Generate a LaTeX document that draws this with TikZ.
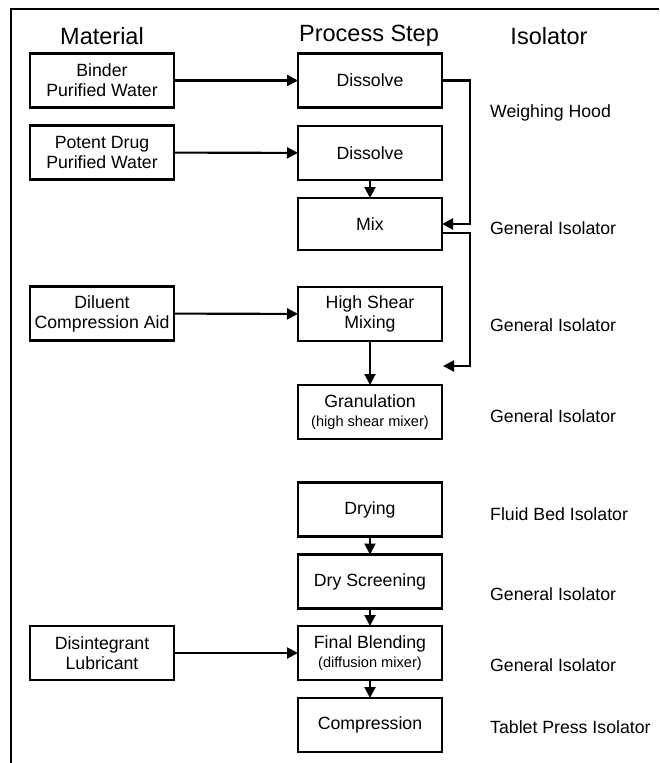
\documentclass[tikz,border=0pt]{standalone}
\usepackage{fontspec}
\setmainfont{Liberation Sans}
\usetikzlibrary{arrows.meta}
\begin{document}
\begin{tikzpicture}[x=1pt,y=-1pt,
  stepbox/.style={draw=black,line width=2.1pt,minimum width=144pt,minimum height=54pt,
    inner sep=0pt,outer sep=0pt,align=center,font=\fontsize{17.7}{20}\selectfont},
  hdr/.style={font=\fontsize{23.5}{26}\selectfont,inner sep=0pt},
  iso/.style={anchor=west,font=\fontsize{17.7}{20}\selectfont,inner sep=0pt},
  arr/.style={line width=2.1pt,-{Triangle[length=11pt,width=11pt]}},
  conn/.style={line width=2.1pt}]
\useasboundingbox (0,0) rectangle (659,763);
% frame
\coordinate (fa) at (11,763);
\coordinate (fb) at (11,9);
\coordinate (fc) at (659,9);
\draw[line width=1.8pt] (fa) -- (fb) -- (fc);
% headers
\node[hdr] (hm) at (102,36) {Material};
\node[hdr] (hp) at (369,36) {Process Step};
\node[hdr] (hi) at (549,36) {Isolator};
% material boxes
\node[stepbox] (m1) at (102,80.5) {Binder\\Purified Water};
\node[stepbox] (m2) at (102,152.5) {Potent Drug\\Purified Water};
\node[stepbox] (m3) at (102,313.5) {Diluent\\Compression Aid};
\node[stepbox] (m4) at (102,653) {Disintegrant\\Lubricant};
% process boxes
\node[stepbox] (p1) at (370,80.5) {Dissolve};
\node[stepbox] (p2) at (370,153) {Dissolve};
\node[stepbox,minimum height=52pt] (p3) at (370,224) {Mix};
\node[stepbox] (p4) at (370,314) {High Shear\\Mixing};
\node[stepbox] (p5) at (370,412) {Granulation\\[-1pt]{\fontsize{14.6}{17}\selectfont (high shear mixer)}};
\node[stepbox] (p6) at (370,509.5) {Drying};
\node[stepbox] (p7) at (370,581.5) {Dry Screening};
\node[stepbox] (p8) at (370,653) {Final Blending\\[-1pt]{\fontsize{14.6}{17}\selectfont (diffusion mixer)}};
\node[stepbox] (p9) at (370,725) {Compression};
% isolator labels
\node[iso] (i1) at (490,113) {Weighing Hood};
\node[iso] (i2) at (490,228) {General Isolator};
\node[iso] (i3) at (490,325) {General Isolator};
\node[iso] (i4) at (490,416) {General Isolator};
\node[iso] (i5) at (490,514) {Fluid Bed Isolator};
\node[iso] (i6) at (490,594) {General Isolator};
\node[iso] (i7) at (490,665) {General Isolator};
\node[iso] (i8) at (490,727) {Tablet Press Isolator};
% horizontal feeds
\draw[arr] (m1) -- (p1);
\draw[arr] (m2) -- (p2);
\draw[arr] (m3) -- (p4);
\draw[arr] (m4) -- (p8);
% vertical flow
\draw[arr] (p2) -- (p3);
\draw[arr] (p4) -- (p5);
\draw[arr] (p6) -- (p7);
\draw[arr] (p7) -- (p8);
\draw[arr] (p8) -- (p9);
% side loops
\draw[conn,-{Triangle[length=11pt,width=11pt]}] (p1.east) -| (470,224) -- (p3.east);
\coordinate (gin) at (443,366);
\draw[conn,-{Triangle[length=11pt,width=11pt]}] ([yshift=-9pt]p3.east) -| (470,366) -- (gin);
\end{tikzpicture}
\end{document}
